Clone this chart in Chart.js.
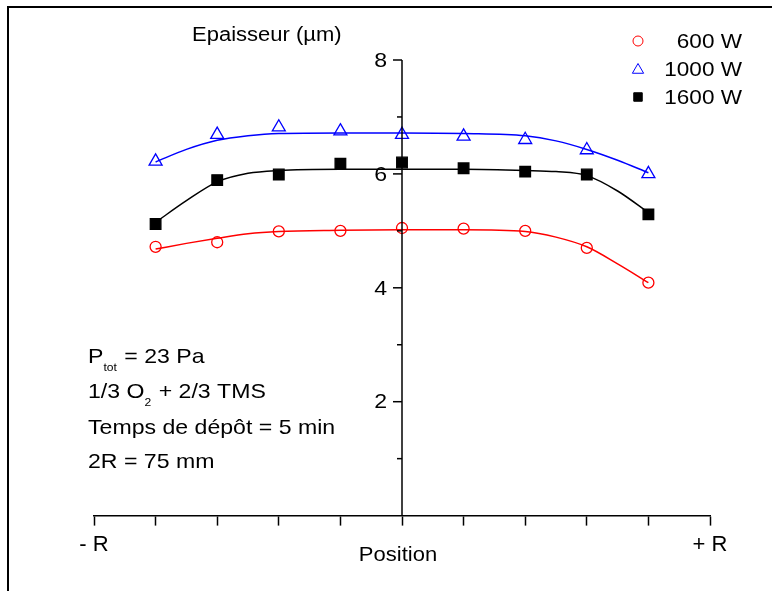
<!DOCTYPE html>
<html>
<head>
<meta charset="utf-8">
<script src="https://cdn.jsdelivr.net/npm/chart.js@4.4.1/dist/chart.umd.min.js"></script>
<style>
  html, body { margin: 0; padding: 0; background: #fff; }
  #wrap { width: 772px; height: 591px; position: relative; }
</style>
</head>
<body>
<div id="wrap"><canvas id="myChart"></canvas></div>
<script>
'use strict';
// measured points
const positions = [-4, -3, -2, -1, 0, 1, 2, 3, 4];
const w600 = [4.72, 4.80, 4.99, 5.00, 5.05, 5.04, 5.00, 4.70, 4.09];
const w1000 = [6.22, 6.69, 6.82, 6.75, 6.69, 6.66, 6.60, 6.42, 6.00];
const w1600 = [5.12, 5.89, 5.99, 6.18, 6.20, 6.10, 6.04, 5.99, 5.29];

// fitted curves
const fitX = [-4, -3.5, -3, -2.5, -2, -1, 0, 1, 2, 2.5, 3, 3.5, 4];
const fit600 = [4.68, 4.78, 4.87, 4.95, 4.99, 5.01, 5.02, 5.02, 4.99, 4.89, 4.72, 4.42, 4.09];
const fit1000 = [6.21, 6.43, 6.59, 6.67, 6.71, 6.72, 6.72, 6.71, 6.67, 6.58, 6.43, 6.24, 6.02];
const fit1600 = [5.15, 5.53, 5.86, 6.01, 6.06, 6.08, 6.08, 6.08, 6.06, 6.04, 5.97, 5.70, 5.32];

const seriesNames = ['600 W', '1000 W', '1600 W'];
const xTickLabels = { '-5': '- R', '5': '+ R' };
const yMajor = [2, 4, 6, 8];
const yMinor = [1, 3, 5, 7];
const yTitle = 'Epaisseur (\u00b5m)';
const xTitle = 'Position';

const FONT = '"Liberation Sans", Arial, sans-serif';
const STRETCH = 1.1;

function pts(xs, ys) {
    return xs.map(function (x, i) { return { x: x, y: ys[i] }; });
}

const styles = [
    { color: '#ff0000', pointStyle: 'circle', radius: 5.5, fill: 'transparent' },
    { color: '#0000ff', pointStyle: 'triangle', radius: 7.5, fill: 'transparent' },
    { color: '#000000', pointStyle: 'rect', radius: 7.5, fill: '#000000' }
];

const datasets = [];
[w600, w1000, w1600].forEach(function (vals, i) {
    datasets.push({
        label: seriesNames[i],
        data: pts(positions, vals),
        showLine: false,
        pointStyle: styles[i].pointStyle,
        pointRadius: styles[i].radius,
        pointBorderColor: styles[i].color,
        pointBackgroundColor: styles[i].fill,
        pointBorderWidth: 1.3,
        order: 1
    });
});
[fit600, fit1000, fit1600].forEach(function (vals, i) {
    datasets.push({
        label: 'fit ' + seriesNames[i],
        data: pts(fitX, vals),
        showLine: true,
        borderColor: styles[i].color,
        borderWidth: 1.5,
        pointRadius: 0,
        cubicInterpolationMode: 'monotone',
        order: 2
    });
});

// text slightly wider than Liberation Sans, like the original
function text(ctx, s, x, y, size, align) {
    ctx.save();
    ctx.font = size + 'px ' + FONT;
    ctx.textAlign = align || 'left';
    ctx.translate(x, y);
    ctx.scale(STRETCH, 1);
    ctx.fillText(s, 0, 0);
    const w = ctx.measureText(s).width * STRETCH;
    ctx.restore();
    return w;
}

const decor = {
    id: 'decor',
    afterDraw: function (chart) {
        const ctx = chart.ctx;
        const xs = chart.scales.x;
        const ys = chart.scales.y;
        const ax = Math.round(xs.getPixelForValue(0));
        ctx.save();
        ctx.strokeStyle = '#000';
        ctx.fillStyle = '#000';

        // frame (top + left)
        ctx.lineWidth = 2;
        ctx.beginPath();
        ctx.moveTo(8, 591);
        ctx.lineTo(8, 7);
        ctx.lineTo(772, 7);
        ctx.stroke();

        // y axis in the middle
        ctx.lineWidth = 1.5;
        ctx.beginPath();
        ctx.moveTo(ax, ys.getPixelForValue(0));
        ctx.lineTo(ax, ys.getPixelForValue(8));
        ctx.stroke();
        yMajor.forEach(function (v) {
            const py = ys.getPixelForValue(v);
            ctx.beginPath();
            ctx.moveTo(ax, py);
            ctx.lineTo(ax - 9, py);
            ctx.stroke();
            ctx.textBaseline = 'middle';
            text(ctx, String(v), ax - 15, py + 1, 21, 'right');
        });
        yMinor.forEach(function (v) {
            const py = ys.getPixelForValue(v);
            ctx.beginPath();
            ctx.moveTo(ax, py);
            ctx.lineTo(ax - 5, py);
            ctx.stroke();
        });

        ctx.textBaseline = 'alphabetic';
        text(ctx, yTitle, 192, 41, 20);
        text(ctx, xTitle, 398, 561, 20, 'center');

        // legend
        seriesNames.forEach(function (name, i) {
            const y = 41 + i * 28;
            ctx.fillStyle = '#000';
            text(ctx, name, 742, y + 7, 20.5, 'right');
            ctx.strokeStyle = styles[i].color;
            ctx.fillStyle = styles[i].fill;
            ctx.lineWidth = 1;
            const r = i === 0 ? 5 : (i === 1 ? 6.5 : 6);
            Chart.helpers.drawPoint(ctx, { pointStyle: styles[i].pointStyle, radius: r, rotation: 0, borderWidth: 1 }, 638, y + (i === 1 ? 1 : 0));
        });

        // conditions text
        ctx.fillStyle = '#000';
        let x = 88;
        x += text(ctx, 'P', x, 363, 21);
        x += text(ctx, 'tot', x, 371, 11) + 1;
        text(ctx, ' = 23 Pa', x, 363, 21);

        x = 88;
        x += text(ctx, '1/3 O', x, 398, 21);
        x += text(ctx, '2', x, 406, 11) + 1;
        text(ctx, ' + 2/3 TMS', x, 398, 21);

        text(ctx, 'Temps de d\u00e9p\u00f4t = 5 min', 88, 434, 21);
        text(ctx, '2R = 75 mm', 88, 468, 21);
        ctx.restore();
    }
};

new Chart(document.getElementById('myChart'), {
    type: 'scatter',
    data: { datasets: datasets },
    options: {
        responsive: true,
        maintainAspectRatio: false,
        animation: false,
        layout: { padding: { left: 94, right: 62, top: 60, bottom: 27 } },
        plugins: {
            legend: { display: false },
            tooltip: { enabled: false }
        },
        scales: {
            x: {
                type: 'linear',
                min: -5,
                max: 5,
                grid: {
                    display: true,
                    drawOnChartArea: false,
                    drawTicks: true,
                    tickLength: 10,
                    tickColor: '#000',
                    tickWidth: 1.5
                },
                border: { display: true, color: '#000', width: 1.5 },
                ticks: {
                    stepSize: 1,
                    autoSkip: false,
                    maxRotation: 0,
                    padding: 6,
                    color: '#000',
                    font: { family: FONT, size: 22 },
                    callback: function (v) { return xTickLabels[String(v)] || ''; }
                }
            },
            y: {
                type: 'linear',
                display: false,
                min: 0,
                max: 8
            }
        }
    },
    plugins: [decor]
});
</script>
</body>
</html>
